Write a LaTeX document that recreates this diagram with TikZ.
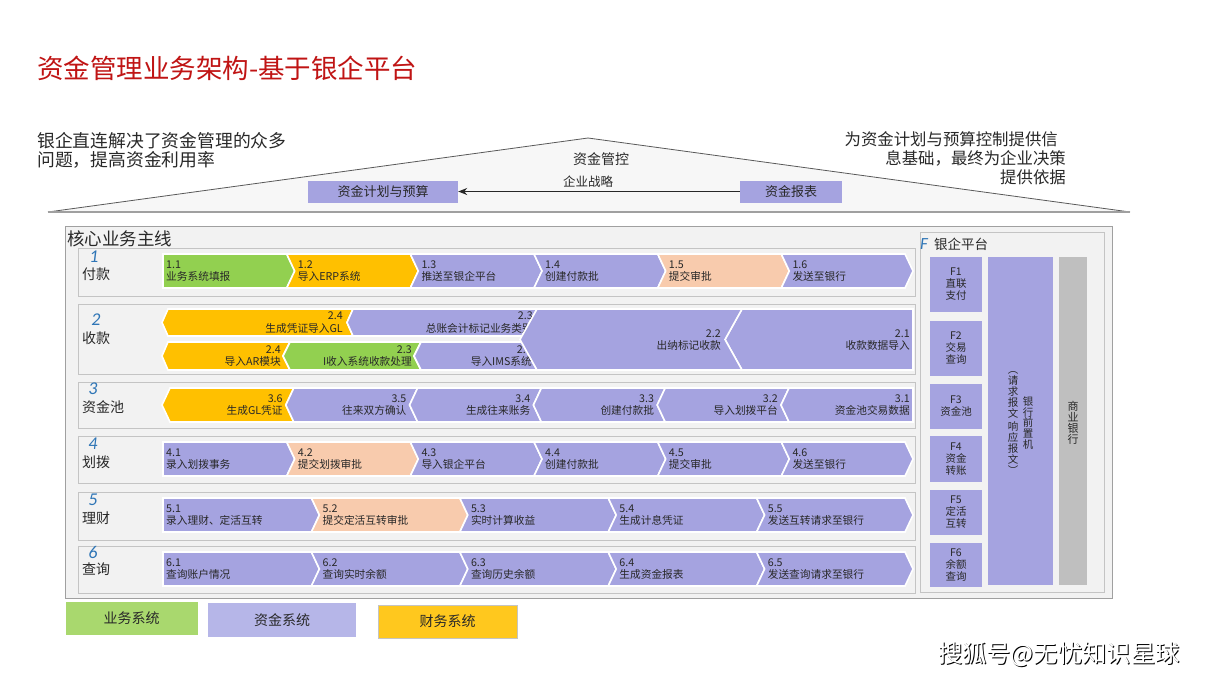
\documentclass[tikz,border=0pt]{standalone}
\usepackage{fontspec}
\setmainfont{Noto Sans CJK SC}
\newfontfamily\numfont{Carlito}
\usetikzlibrary{arrows.meta}

\definecolor{lav}{RGB}{165,163,224}
\definecolor{lavlite}{RGB}{182,182,232}
\definecolor{grn}{RGB}{146,208,80}
\definecolor{grnlite}{RGB}{169,216,110}
\definecolor{gold}{RGB}{255,192,0}
\definecolor{goldlite}{RGB}{255,200,30}
\definecolor{peach}{RGB}{248,203,173}
\definecolor{panel}{RGB}{242,242,242}
\definecolor{rim}{RGB}{196,196,196}
\definecolor{frame}{RGB}{160,160,160}
\definecolor{bankgray}{RGB}{191,191,191}
\definecolor{numblue}{RGB}{46,117,182}
\definecolor{titlered}{RGB}{192,20,20}
\definecolor{ink}{RGB}{40,40,40}

% right-pointing step: name, x from, x to, top, colour, text, notch
\newcommand{\rchev}[7]{%
  \path[chev, fill=#5] (#2,#4) -- (#3,#4) -- (#3+8,#4+17) -- (#3,#4+34)
    -- (#2,#4+34) -- (#2+#7,#4+17) -- cycle;
  \node[steptxt, anchor=west, align=left] (#1) at (#2+#7+3,#4+17) {#6};}
% left-pointing step: name, x from, x to, top, colour, text, notch
\newcommand{\lchev}[7]{%
  \path[chev, fill=#5] (#2,#4) -- (#3,#4) -- (#3-#7,#4+17) -- (#3,#4+34)
    -- (#2,#4+34) -- (#2-8,#4+17) -- cycle;
  \node[steptxt, anchor=east, align=right] (#1) at (#3-#7-3,#4+17) {#6};}

\begin{document}
\begin{tikzpicture}[
    x=1pt, y=-1pt,
    chev/.style={draw=white, line width=1.6pt, line join=miter},
    steptxt/.style={font=\fontsize{10.7}{12.5}\selectfont, text=ink, inner sep=0pt},
    rowbox/.style={draw=rim, fill=panel, line width=1.2pt, minimum width=837pt,
        anchor=north west, inner sep=0pt},
    rownum/.style={font=\numfont\itshape\fontsize{18}{18}\selectfont, text=numblue, inner sep=0pt},
    rowname/.style={font=\fontsize{14}{14}\selectfont, text=ink, anchor=west, inner sep=0pt},
    fbox/.style={fill=lav, minimum width=52pt, align=center,
        font=\fontsize{10.5}{12}\selectfont, text=ink, inner sep=0pt},
    vtext/.style={align=center, font=\fontsize{10.5}{10.8}\selectfont, text=ink, inner sep=0pt},
    topbox/.style={fill=lav, minimum height=22pt, font=\fontsize{13}{13}\selectfont, text=ink},
    legend/.style={font=\fontsize{14}{14}\selectfont, text=ink, inner sep=0pt}
]
    \useasboundingbox[fill=white] (0,0) rectangle (1209,680);

    % title and notes
    \node[anchor=west, text=titlered, font=\fontsize{26.5}{26.5}\selectfont, inner sep=0pt]
        (title) at (37,68) {资金管理业务架构-基于银企平台};
    \node[anchor=north west, align=left, text=ink, font=\fontsize{17.8}{19.5}\selectfont, inner sep=0pt]
        (lnote) at (37,132) {银企直连解决了资金管理的众多\\问题，提高资金利用率};
    \node[anchor=north east, align=right, text=ink, font=\fontsize{16.4}{19}\selectfont, inner sep=0pt]
        (rnote) at (1066,131) {为资金计划与预算控制提供信\hspace*{8pt}\\息基础，最终为企业决策\\提供依据};

    % roof
    \coordinate (eaveL) at (48,212);
    \coordinate (apex) at (588,138);
    \coordinate (eaveR) at (1130,212);
    \fill[gray!6] (eaveL) -- (apex) -- (eaveR) -- cycle;
    \draw[gray!70!black, line width=0.8pt] (eaveL) -- (apex) -- (eaveR);
    \draw[frame, line width=2.5pt] (eaveL) -- (eaveR);
    \node[text=ink, font=\fontsize{14}{14}\selectfont] (ctrl) at (601,159) {资金管控};
    \node[text=ink, font=\fontsize{12.5}{12.5}\selectfont] (strat) at (588,182) {企业战略};
    \node[topbox, minimum width=150pt] (plan) at (383,191.5) {资金计划与预算};
    \node[topbox, minimum width=102pt] (report) at (791,191.5) {资金报表};
    \draw[-{Stealth[length=9pt,width=7pt]}, line width=1.1pt, ink] (report) -- (plan);

    % core frame
    \node[draw=frame, fill=panel, line width=1.4pt, anchor=north west, inner sep=0pt,
        minimum width=1047pt, minimum height=372pt] (core) at (65,226) {};
    \node[anchor=west, text=ink, font=\fontsize{17.5}{17.5}\selectfont, inner sep=0pt]
        (coret) at (67,239) {核心业务主线};

    % row frames
    \node[rowbox, minimum height=48pt] (row1) at (78,248) {};
    \node[rowbox, minimum height=70pt] (row2) at (78,304) {};
    \node[rowbox, minimum height=46pt] (row3) at (78,382) {};
    \node[rowbox, minimum height=47pt] (row4) at (78,436) {};
    \node[rowbox, minimum height=48pt] (row5) at (78,492) {};
    \node[rowbox, minimum height=47pt] (row6) at (78,546) {};

    % row names
    \node[rownum] (n1) at (94,257) {1};
    \node[rowname] (t1) at (82,274) {付款};
    \node[rownum] (n2) at (96,320) {2};
    \node[rowname] (t2) at (82,338) {收款};
    \node[rownum] (n3) at (93,389) {3};
    \node[rowname] (t3) at (82,407) {资金池};
    \node[rownum] (n4) at (93,444) {4};
    \node[rowname] (t4) at (82,462) {划拨};
    \node[rownum] (n5) at (93,500) {5};
    \node[rowname] (t5) at (82,518) {理财};
    \node[rownum] (n6) at (93,552) {6};
    \node[rowname] (t6) at (82,569) {查询};

    % 1 payment
    \rchev{s11}{163}{286.7}{254}{grn}{1.1\\业务系统填报}{0}
    \rchev{s12}{286.7}{410.3}{254}{gold}{1.2\\导入ERP系统}{8}
    \rchev{s13}{410.3}{534}{254}{lav}{1.3\\推送至银企平台}{8}
    \rchev{s14}{534}{657.7}{254}{lav}{1.4\\创建付款批}{8}
    \rchev{s15}{657.7}{781.3}{254}{peach}{1.5\\提交审批}{8}
    \rchev{s16}{781.3}{905}{254}{lav}{1.6\\发送至银行}{8}

    % 2 receipt
    \path[chev, fill=lav] (742,309) -- (913,309) -- (913,370) -- (742,370) -- (725,339.5) -- cycle;
    \node[steptxt, anchor=east, align=right] (s21) at (910,340) {2.1\\收款数据导入};
    \path[chev, fill=gold] (168,309) -- (353,309) -- (347,322.5) -- (353,336) -- (168,336) -- (162,322.5) -- cycle;
    \node[steptxt, anchor=east, align=right] (s24a) at (343,322.5) {2.4\\生成凭证导入GL};
    \path[chev, fill=lav] (353,309) -- (537,309) -- (522,336) -- (353,336) -- (347,322.5) -- cycle;
    \node[steptxt, anchor=east, align=right] (s23a) at (533,322.5) {2.3\\总账会计标记业务类别};
    \path[chev, fill=gold] (168,342) -- (290,342) -- (283,356) -- (290,370) -- (168,370) -- (162,356) -- cycle;
    \node[steptxt, anchor=east, align=right] (s24b) at (281,356) {2.4\\导入AR模块};
    \path[chev, fill=grn] (290,342) -- (421,342) -- (414,356) -- (421,370) -- (290,370) -- (283,356) -- cycle;
    \node[steptxt, anchor=east, align=right] (s23b) at (412,356) {2.3\\I收入系统收款处理};
    \path[chev, fill=lav] (421,342) -- (521.5,342) -- (537,370) -- (421,370) -- (414,356) -- cycle;
    \node[steptxt, anchor=east, align=right] (s23c) at (532,356) {2.3\\导入IMS系统};
    \path[chev, fill=lav] (537,309) -- (742,309) -- (725,339.5) -- (742,370) -- (537,370) -- (520,339.5) -- cycle;
    \node[steptxt, anchor=east, align=right] (s22) at (721,340) {2.2\\出纳标记收款};

    % 3 cash pool
    \lchev{s36}{170}{293.8}{388}{gold}{3.6\\生成GL凭证}{8}
    \lchev{s35}{293.8}{417.6}{388}{lav}{3.5\\往来双方确认}{8}
    \lchev{s34}{417.6}{541.4}{388}{lav}{3.4\\生成往来账务}{8}
    \lchev{s33}{541.4}{665.2}{388}{lav}{3.3\\创建付款批}{8}
    \lchev{s32}{665.2}{789}{388}{lav}{3.2\\导入划拨平台}{8}
    \lchev{s31}{789}{913}{388}{lav}{3.1\\资金池交易数据}{0}

    % 4 transfer
    \rchev{s41}{163}{286.7}{442}{lav}{4.1\\录入划拨事务}{0}
    \rchev{s42}{286.7}{410.3}{442}{peach}{4.2\\提交划拨审批}{8}
    \rchev{s43}{410.3}{534}{442}{lav}{4.3\\导入银企平台}{8}
    \rchev{s44}{534}{657.7}{442}{lav}{4.4\\创建付款批}{8}
    \rchev{s45}{657.7}{781.3}{442}{lav}{4.5\\提交审批}{8}
    \rchev{s46}{781.3}{905}{442}{lav}{4.6\\发送至银行}{8}

    % 5 investment
    \rchev{s51}{163}{311.4}{498}{lav}{5.1\\录入理财、定活互转}{0}
    \rchev{s52}{311.4}{459.8}{498}{peach}{5.2\\提交定活互转审批}{8}
    \rchev{s53}{459.8}{608.2}{498}{lav}{5.3\\实时计算收益}{8}
    \rchev{s54}{608.2}{756.6}{498}{lav}{5.4\\生成计息凭证}{8}
    \rchev{s55}{756.6}{905}{498}{lav}{5.5\\发送互转请求至银行}{8}

    % 6 query
    \rchev{s61}{163}{311.4}{552}{lav}{6.1\\查询账户情况}{0}
    \rchev{s62}{311.4}{459.8}{552}{lav}{6.2\\查询实时余额}{8}
    \rchev{s63}{459.8}{608.2}{552}{lav}{6.3\\查询历史余额}{8}
    \rchev{s64}{608.2}{756.6}{552}{lav}{6.4\\生成资金报表}{8}
    \rchev{s65}{756.6}{905}{552}{lav}{6.5\\发送查询请求至银行}{8}

    % bank platform
    \node[draw=rim, fill=panel, line width=1.2pt, anchor=north west, inner sep=0pt,
        minimum width=184pt, minimum height=360pt] (bank) at (920,232) {};
    \node[rownum, font=\numfont\itshape\fontsize{17}{17}\selectfont] (fmark) at (924,244) {F};
    \node[anchor=west, text=ink, font=\fontsize{13.5}{13.5}\selectfont, inner sep=0pt]
        (bankt) at (934,244) {银企平台};
    \node[fbox, minimum height=55pt] (f1) at (956,284.5) {F1\\直联\\支付};
    \node[fbox, minimum height=55pt] (f2) at (956,348.5) {F2\\交易\\查询};
    \node[fbox, minimum height=45pt] (f3) at (956,406.5) {F3\\资金池};
    \node[fbox, minimum height=46pt] (f4) at (956,459) {F4\\资金\\转账};
    \node[fbox, minimum height=45pt] (f5) at (956,512.5) {F5\\定活\\互转};
    \node[fbox, minimum height=44pt] (f6) at (956,565) {F6\\余额\\查询};
    \node[fill=lav, anchor=north west, inner sep=0pt, minimum width=65pt, minimum height=328pt]
        (fep) at (988,257) {};
    \node[vtext] (fepa) at (1028,423) {银\\行\\前\\置\\机};
    \node[vtext] (fepb) at (1013,423) {︵\\请\\求\\报\\文\\[3pt]响\\应\\报\\文\\︶};
    \node[fill=bankgray, anchor=north west, inner sep=0pt, minimum width=28pt, minimum height=328pt]
        (cbank) at (1059,257) {};
    \node[vtext, font=\fontsize{11}{11.2}\selectfont] (cbankt) at (1073,423) {商\\业\\银\\行};

    % legend
    \node[legend, fill=grnlite, minimum width=132pt, minimum height=33pt] (lg1) at (131.5,618.5) {业务系统};
    \node[legend, fill=lavlite, minimum width=148pt, minimum height=34pt] (lg2) at (282,620) {资金系统};
    \node[legend, fill=goldlite, draw=rim, minimum width=139pt, minimum height=33pt] (lg3) at (447.5,621.5) {财务系统};

    % watermark
    \node[anchor=west, text=black, font=\fontsize{24.3}{24.3}\selectfont, inner sep=0pt]
        (wmk) at (938.8,655.8) {搜狐号@无忧知识星球};
    \node[anchor=west, text=white, font=\fontsize{24.3}{24.3}\selectfont, inner sep=0pt]
        (wm) at (937.8,654.8) {搜狐号@无忧知识星球};
\end{tikzpicture}
\end{document}
